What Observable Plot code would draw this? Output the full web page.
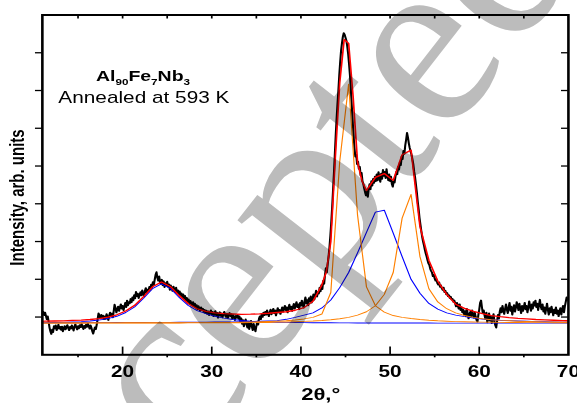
<!DOCTYPE html>
<html>
<head>
<meta charset="utf-8">
<script src="https://cdn.jsdelivr.net/npm/d3@7"></script>
<script src="https://cdn.jsdelivr.net/npm/@observablehq/plot@0.6"></script>
<style>
  html, body { margin: 0; padding: 0; background: #fff; }
  #chart { position: relative; width: 577px; height: 403px; overflow: hidden; background: #fff; }
  #chart > svg { display: block; }
  #stamp { position: absolute; left: 0; top: 0; mix-blend-mode: multiply; pointer-events: none; }
</style>
</head>
<body>
<div id="chart"></div>
<script>
// Measured XRD pattern, 2θ from 11.0° in 0.1° steps (arb. units)
const scanStart = 11.0;
const scanStep = 0.1;
const scanCounts = [
  8, 14, 5, 12, 3, -6, 2, -12, -28, -38,
  -45, -33, -40, -24, -30, -22, -35, -28, -20, -31,
  -26, -34, -25, -38, -30, -24, -33, -27, -21, -29,
  -35, -26, -31, -22, -28, -36, -25, -19, -27, -33,
  -24, -30, -21, -27, -18, -25, -32, -23, -29, -20,
  -26, -17, -24, -31, -22, -28, -38, -44, -35, -27,
  -32, -20, -5, 10, 3, -4, 6, -2, 4, -6,
  2, -5, 8, 0, -8, 4, 12, 2, 9, -1,
  15, 33, 24, 12, 20, 28, 16, 25, 34, 22,
  30, 18, 27, 38, 26, 44, 31, 40, 36, 48,
  39, 52, 44, 58, 49, 67, 55, 62, 50, 58,
  66, 57, 71, 62, 55, 69, 77, 64, 73, 68,
  80, 72, 86, 78, 93, 85, 99, 112, 119, 104,
  96, 108, 92, 88, 99, 84, 95, 79, 90, 83,
  94, 80, 87, 72, 84, 76, 69, 81, 73, 66,
  78, 64, 71, 60, 68, 55, 63, 52, 60, 48,
  56, 44, 51, 40, 47, 35, 43, 38, 31, 40,
  28, 36, 25, 32, 20, 29, 24, 16, 26, 19,
  22, 13, 19, 10, 17, 8, 15, 5, 12, 18,
  6, 14, 2, 10, 16, 4, 11, -2, 8, 13,
  3, 10, -1, 7, 14, 5, 0, 9, -3, 6,
  11, 2, 8, -4, 5, 0, -8, 3, -2, 6,
  -5, 2, -12, -3, -18, -8, -25, -14, -6, -20,
  -28, -15, -32, -22, -10, -26, -35, -18, -30, -38,
  -24, -12, -20, -4, 2, -6, 8, 0, 12, 5,
  14, 6, 18, 9, 2, 12, 20, 7, 15, 22,
  10, 18, 4, 14, 24, 12, 19, 8, 16, 26,
  14, 22, 30, 18, 26, 12, 24, 33, 20, 28,
  16, 27, 35, 22, 30, 40, 26, 34, 21, 38,
  30, 44, 33, 25, 40, 52, 36, 45, 31, 50,
  42, 55, 38, 48, 60, 46, 58, 70, 54, 66,
  62, 78, 68, 85, 74, 96, 88, 112, 130, 118,
  140, 160, 185, 215, 250, 290, 335, 380, 430, 480,
  525, 565, 600, 640, 675, 705, 725, 742, 752, 748,
  740, 732, 716, 696, 670, 640, 602, 560, 520, 482,
  448, 425, 430, 405, 412, 392, 398, 375, 382, 360,
  352, 340, 330, 322, 334, 318, 340, 352, 338, 360,
  348, 366, 355, 372, 360, 378, 362, 384, 370, 358,
  380, 366, 390, 374, 385, 368, 392, 375, 362, 378,
  360, 372, 352, 345, 360, 356, 372, 385, 378, 398,
  390, 410, 402, 425, 418, 440, 432, 455, 470, 488,
  476, 460, 448, 438, 430, 418, 405, 385, 370, 350,
  330, 305, 285, 262, 245, 228, 212, 200, 190, 178,
  168, 160, 150, 142, 138, 128, 122, 118, 108, 112,
  102, 96, 100, 90, 86, 92, 80, 84, 76, 72,
  78, 66, 70, 60, 64, 55, 58, 50, 54, 46,
  48, 40, 44, 36, 28, 38, 30, 22, 34, 18,
  26, 12, 20, 6, 16, 2, 22, 10, -4, 8,
  14, 2, 18, 6, -2, 12, 0, -8, -12, 6,
  20, 38, 44, 26, 10, 18, 4, -6, 12, -14,
  -4, 10, -10, 2, -16, -6, 8, -12, -22, -28,
  -10, 6, -4, 14, 24, 12, 30, 18, 8, 22,
  34, 20, 10, 26, 38, 16, 28, 6, 20, 32,
  14, 24, 40, 28, 18, 36, 22, 10, 30, 16,
  26, 38, 20, 30, 12, 24, 42, 28, 16, 34,
  22, 40, 30, 44, 26, 36, 18, 32, 46, 28,
  20, 34, 14, 26, 8, 22, 36, 18, 6, 24,
  12, 28, 16, 4, 20, 10, 26, 8, 18, 2,
  14, 24, 6, 20, 30, 12, 28, 40, 52, 44,
  50
];

// Fitted peak components, evaluated on a 1° grid
const fitTheta = [
  10.35, 11.35, 12.35, 13.35, 14.35, 15.35, 16.35, 17.35, 18.35, 19.35,
  20.35, 21.35, 22.35, 23.35, 24.35, 25.35, 26.35, 27.35, 28.35, 29.35,
  30.35, 31.35, 32.35, 33.35, 34.35, 35.35, 36.35, 37.35, 38.35, 39.35,
  40.35, 41.35, 42.35, 43.35, 44.35, 45.35, 46.35, 47.35, 48.35, 49.35,
  50.35, 51.35, 52.35, 53.35, 54.35, 55.35, 56.35, 57.35, 58.35, 59.35,
  60.35, 61.35, 62.35, 63.35, 64.35, 65.35, 66.35, 67.35, 68.35, 69.35,
  70.35
];
// broad amorphous halo near 24.5°
const haloLow = [
  -15.5, -15, -14.5, -14, -13, -12, -10.5, -8, -4, 2,
  12, 27, 50, 75, 88, 76, 52, 31, 17, 9,
  2, -3, -6.5, -9, -11, -12.3, -13.2, -13.8, -14.2, -14.5,
  -14.8, -15, -15.2, -15.3, -15.4, -15.5, -15.6, -15.7, -15.7, -15.8,
  -15.8, -15.9, -15.9, -15.9, -15.9, -16, -16, -16, -16, -16,
  -16, -16, -16, -16, -16, -16, -16, -16, -16, -16,
  -16
];
// broad amorphous halo near 48.9°
const haloHigh = [
  -15.5, -15.4, -15.3, -15.2, -15.1, -15, -14.9, -14.8, -14.7, -14.6,
  -14.5, -14.4, -14.3, -14.2, -14.1, -14, -13.9, -13.8, -13.6, -13.4,
  -13.2, -13, -12.7, -12.3, -11.8, -11.2, -10.5, -9.5, -6, -1,
  5, 11, 24, 45, 78, 118, 170, 224, 278, 283,
  222, 160, 100, 63, 36, 21, 11, 5, 1, -2.5,
  -5, -7, -8.5, -9.5, -10.5, -11.3, -12, -12.5, -13, -13.4,
  -13.8
];
// crystalline reflection near 45.2°
const braggA = [
  -15.8, -15.8, -15.7, -15.7, -15.6, -15.6, -15.5, -15.5, -15.4, -15.4,
  -15.3, -15.3, -15.2, -15.2, -15.1, -15.1, -15, -14.9, -14.8, -14.7,
  -14.5, -14.3, -14, -13.6, -13.1, -12.5, -11.8, -11, -10, -8,
  -5, -1, 8, 65, 412, 617, 270, 80, 30, 13,
  4, -1, -4, -6.5, -8.5, -10, -11, -12, -12.6, -13.1,
  -13.5, -13.8, -14.1, -14.3, -14.5, -14.7, -14.8, -14.9, -15, -15.1,
  -15.2
];
// crystalline reflection near 52.4°
const braggB = [
  -16, -16, -16, -15.9, -15.9, -15.9, -15.9, -15.9, -15.8, -15.8,
  -15.8, -15.8, -15.7, -15.7, -15.7, -15.6, -15.6, -15.5, -15.5, -15.4,
  -15.3, -15.2, -15.1, -15, -14.8, -14.6, -14.3, -13.5, -13, -12.3,
  -11.5, -10.5, -9, -7, -4.5, -1, 5, 14, 30, 60,
  118, 262, 325, 160, 75, 40, 22, 11, 4, -1,
  -4.5, -7, -8.8, -10, -11, -11.8, -12.4, -12.9, -13.3, -13.6,
  -13.9
];
// total fitted profile
const envelopeTheta = [
  10.35, 11.35, 12.35, 13.35, 14.35, 15.35, 16.35, 17.35, 18.35, 19.35,
  20.35, 21.35, 22.35, 23.35, 24.35, 25.35, 26.35, 27.35, 28.35, 29.35,
  30.35, 31.35, 32.35, 33.35, 34.35, 35.35, 36.35, 37.35, 38.35, 39.35,
  40.35, 41.35, 42.35, 42.85, 43.35, 43.85, 44.35, 44.85, 45.35, 45.85,
  46.35, 46.85, 47.35, 48.35, 49.35, 50.35, 51.35, 52.35, 53.35, 54.35,
  55.35, 56.35, 57.35, 58.35, 59.35, 60.35, 61.35, 62.35, 63.35, 64.35,
  65.35, 66.35, 67.35, 68.35, 69.35, 70.35
];
const envelope = [
  -11.5, -11, -10.5, -10, -9, -8, -6.5, -4, 0, 6,
  16, 31, 54, 80, 93, 81, 57, 36, 22, 15,
  11, 9, 8, 7, 7.5, 8.5, 10, 12, 14, 18,
  25, 42, 85, 120, 200, 420, 620, 735, 725, 585,
  410, 360, 335, 370, 380, 362, 430, 442, 240, 150,
  95, 60, 34, 23, 15, 9, 4, 1, -1.5, -3.5,
  -5, -6.5, -7.5, -8.5, -9.5, -10
];

// Axis ticks
const xTickLabels = [20, 30, 40, 50, 60, 70];
const xMajorTicks = [20, 30, 40, 50, 60];
const xMinorTicks = [15, 25, 35, 45, 55, 65];
const xTopTicks = [15, 20, 25, 30, 35, 40, 45, 50, 55, 60, 65];
const yTicks = [0, 100, 200, 300, 400, 500, 600, 700];

const xTitle = "2θ,°";
const yTitle = "Intensity, arb. units";
const sampleLabel = [["Al", ""], ["90", "sub"], ["Fe", ""], ["7", "sub"], ["Nb", ""], ["3", "sub"]];
const treatmentLabel = "Annealed at 593 K";
const stampWord = "Accepted";

// Tables for the marks
const scan = scanCounts.map((v, i) => ({t: scanStart + i * scanStep, v}));
const components = fitTheta.map((t, i) => ({t, haloLow: haloLow[i], haloHigh: haloHigh[i], braggA: braggA[i], braggB: braggB[i]}));
const fit = envelopeTheta.map((t, i) => ({t, v: envelope[i]}));

// The figure is laid out in a narrower frame and widened on screen
const W = 444, H = 403, SHOWN_W = 577;
const mL = 32.1, mR = 7.1, mT = 14.5, mB = 48.7;
const frameW = W - mL - mR, frameH = H - mT - mB;
const ORANGE = "#ff8000", BLUE = "#0000ff", RED = "#ff0000";
const font = "'Liberation Sans', Arial, sans-serif";

const plot = Plot.plot({
  width: W,
  height: H,
  marginLeft: mL, marginRight: mR, marginTop: mT, marginBottom: mB,
  x: {domain: [11, 70], axis: null},
  y: {domain: [-100, 800], axis: null},
  style: {fontFamily: font, background: "white", color: "black"},
  marks: [
    Plot.line(scan, {x: "t", y: "v", stroke: "black", strokeWidth: 1.6, clip: true}),
    Plot.line(components, {x: "t", y: "haloLow", stroke: BLUE, strokeWidth: 0.9, clip: true}),
    Plot.line(components, {x: "t", y: "haloHigh", stroke: BLUE, strokeWidth: 0.9, clip: true}),
    Plot.line(components, {x: "t", y: "braggA", stroke: ORANGE, strokeWidth: 0.9, clip: true}),
    Plot.line(components, {x: "t", y: "braggB", stroke: ORANGE, strokeWidth: 0.9, clip: true}),
    Plot.line(fit, {x: "t", y: "v", stroke: RED, strokeWidth: 1.3, clip: true}),
    Plot.frame({stroke: "black", strokeWidth: 2}),
    // bottom: major ticks inside, minor ticks outside
    Plot.tickX(xMajorTicks, {x: d => d, insetTop: frameH - 7.7, stroke: "black", strokeWidth: 1.3}),
    Plot.tickX(xMinorTicks, {x: d => d, insetTop: frameH, insetBottom: -3, stroke: "black", strokeWidth: 1.3}),
    // top: short inward ticks
    Plot.tickX(xTopTicks, {x: d => d, insetBottom: frameH - 4, stroke: "black", strokeWidth: 1.3}),
    // left: outward ticks, right: inward ticks
    Plot.tickY(yTicks, {y: d => d, insetRight: frameW, insetLeft: -5.2, stroke: "black", strokeWidth: 1.3}),
    Plot.tickY(yTicks, {y: d => d, insetLeft: frameW - 5.2, stroke: "black", strokeWidth: 1.3}),
    Plot.text(xTickLabels, {x: d => d, text: d => String(d), frameAnchor: "bottom", lineAnchor: "middle", dy: 17, fontSize: 16, fontWeight: "bold", fill: "black"}),
    Plot.text([xTitle], {frameAnchor: "bottom", text: d => d, textAnchor: "middle", lineAnchor: "middle", dx: 11.8, dy: 39.5, fontSize: 17, fontWeight: "bold", fill: "black"}),
    Plot.text([yTitle], {frameAnchor: "left", text: d => d, textAnchor: "middle", lineAnchor: "middle", rotate: -90, dx: -18.6, dy: 12.6, fontSize: 15, fontWeight: "bold", fill: "black"})
  ]
});

// Sample annotation, placed in data coordinates through the plot's scales
const sx = plot.scale("x"), sy = plot.scale("y");
const svg = d3.select(plot);
const formula = svg.append("text")
  .attr("x", sx.apply(22.36)).attr("y", sy.apply(624))
  .attr("text-anchor", "middle").attr("font-family", font)
  .attr("font-weight", "bold").attr("font-size", 15).attr("fill", "black");
let lowered = false;
for (const [part, kind] of sampleLabel) {
  const sub = kind === "sub";
  const span = formula.append("tspan").text(part);
  if (sub && !lowered) { span.attr("dy", 4).attr("font-size", 9); lowered = true; }
  else if (sub) { span.attr("font-size", 9); }
  else if (lowered) { span.attr("dy", -4); lowered = false; }
}
svg.append("text")
  .attr("x", sx.apply(22.46)).attr("y", sy.apply(566))
  .attr("text-anchor", "middle").attr("font-family", font)
  .attr("font-size", 16).attr("fill", "black")
  .text(treatmentLabel);

// widen the drawing to its on-screen proportions
plot.setAttribute("width", SHOWN_W);
plot.setAttribute("height", H);
plot.setAttribute("viewBox", `0 0 ${W} ${H}`);
plot.setAttribute("preserveAspectRatio", "none");
plot.style.maxWidth = "none";
plot.style.height = H + "px";
plot.style.width = SHOWN_W + "px";

const chart = document.getElementById("chart");
chart.appendChild(plot);

// Diagonal "Accepted" stamp laid over the figure; the second "e" is
// centred on a chosen point and the word runs up to the right.
const stampSize = 250, stampAngle = -52, stampAt = [433, 63];
const stamp = d3.select(chart).append("svg")
  .attr("id", "stamp").attr("width", SHOWN_W).attr("height", H);
const word = stamp.append("text")
  .style("font-family", "'Liberation Serif', 'Times New Roman', Times, serif")
  .style("font-size", stampSize + "px")
  .attr("fill", "#bcbcbc")
  .text(stampWord);
const ext = word.node().getExtentOfChar(6);
const cx = ext.x + ext.width / 2, cy = -0.23 * stampSize;
word.attr("transform", `translate(${stampAt[0]},${stampAt[1]}) rotate(${stampAngle}) translate(${-cx},${-cy})`);
</script>
</body>
</html>
